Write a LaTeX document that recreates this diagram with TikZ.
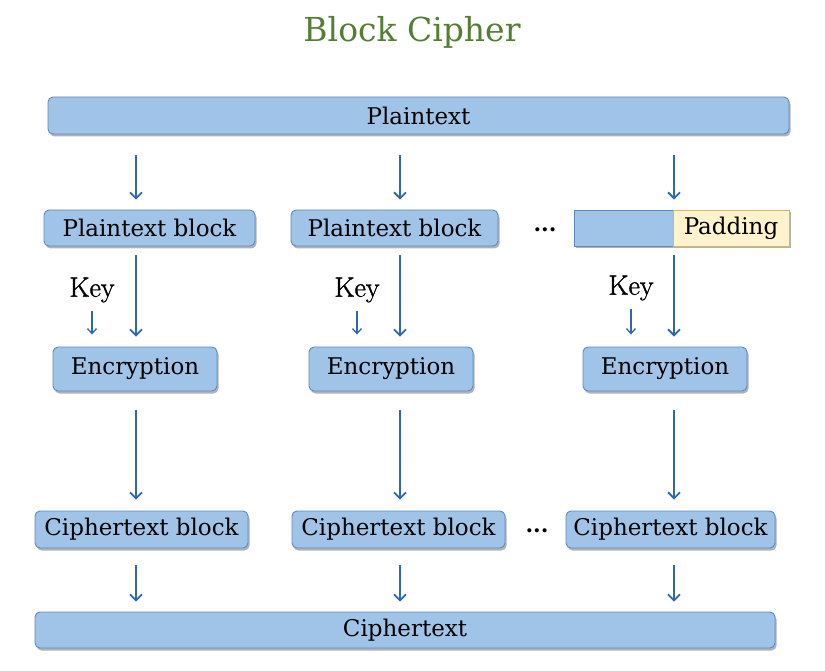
\documentclass[tikz,border=0pt]{standalone}
\usepackage{fontspec}
\setmainfont{DejaVu Serif}
\newfontfamily\keyfont[FakeBold=1.3]{Latin Modern Roman}
\usetikzlibrary{arrows.meta,shadows}
\definecolor{boxblue}{RGB}{160,196,232}
\definecolor{boxedge}{RGB}{96,136,192}
\definecolor{padfill}{RGB}{255,242,204}
\definecolor{padedge}{RGB}{214,184,96}
\definecolor{flowblue}{RGB}{46,104,178}
\definecolor{titlegreen}{RGB}{84,126,52}

\tikzset{
 blk/.style={draw=boxedge,fill=boxblue,line width=0.9pt,inner sep=0pt,
  drop shadow={shadow xshift=1.5pt,shadow yshift=-2.5pt,opacity=0.3,fill=black},
  font=\fontsize{23}{27}\selectfont},
 rblk/.style={blk,rounded corners=5pt},
 keylbl/.style={font=\keyfont\fontsize{28}{32}\selectfont},
 flow/.style={draw=flowblue,line width=1.8pt,-{Straight Barb[length=6pt,width=12pt,line width=1.8pt]}},
 keyflow/.style={draw=flowblue,line width=1.3pt,-{Straight Barb[length=5pt,width=9pt,line width=1.3pt]}},
 dots/.style={font=\fontsize{22}{26}\selectfont\bfseries}
}

\begin{document}
\begin{tikzpicture}[x=1pt,y=-1pt]
 \useasboundingbox (0,0) rectangle (825,671);
 \node[text=titlegreen,font=\fontsize{33}{38}\selectfont] (title) at (412,32) {Block Cipher};

 \node[rblk,minimum width=741pt,minimum height=37pt] (plain) at (418.5,115.5) {Plaintext};

 % blocks of plaintext
 \node[rblk,minimum width=211pt,minimum height=36pt] (pt1) at (149.5,228) {Plaintext block};
 \node[rblk,minimum width=207pt,minimum height=36pt] (pt2) at (394.5,228) {Plaintext block};
 \node[dots] (dotsA) at (545,230) {...};
 \node[blk,minimum width=99pt,minimum height=36pt] (part) at (623.5,228) {};
 \node[blk,draw=padedge,fill=padfill,minimum width=116pt,minimum height=36pt] (pad) at (731,228) {Padding};

 % keys
 \node[keylbl] (key1) at (92,290) {Key};
 \node[keylbl] (key2) at (357,290) {Key};
 \node[keylbl] (key3) at (631,288) {Key};

 \node[rblk,minimum width=164pt,minimum height=44pt] (enc1) at (135,369) {Encryption};
 \node[rblk,minimum width=164pt,minimum height=44pt] (enc2) at (391,369) {Encryption};
 \node[rblk,minimum width=164pt,minimum height=44pt] (enc3) at (665,369) {Encryption};

 % blocks of ciphertext
 \node[rblk,minimum width=213pt,minimum height=37pt] (ct1) at (141.5,529.5) {Ciphertext block};
 \node[rblk,minimum width=213pt,minimum height=37pt] (ct2) at (398.5,529.5) {Ciphertext block};
 \node[dots] (dotsB) at (537,531) {...};
 \node[rblk,minimum width=209pt,minimum height=37pt] (ct3) at (670.5,529.5) {Ciphertext block};

 \node[rblk,minimum width=740pt,minimum height=36pt] (cipher) at (405,630) {Ciphertext};

 \coordinate (col1) at (136,0);
 \coordinate (col2) at (400,0);
 \coordinate (col3) at (674,0);

 \foreach \c/\p/\e/\k/\t in {1/pt1/enc1/key1/ct1,2/pt2/enc2/key2/ct2,3/pad/enc3/key3/ct3}{
  \draw[flow,shorten <=21pt,shorten >=10pt] (plain.south -| col\c) -- (\p.north -| col\c);
  \draw[flow,shorten <=9pt,shorten >=10pt] (\p.south -| col\c) -- (\e.north -| col\c);
  \draw[keyflow,shorten <=5pt,shorten >=12pt] (\k.south) -- (\e.north -| \k.south);
  \draw[flow,shorten <=19pt,shorten >=11pt] (\e.south -| col\c) -- (\t.north -| col\c);
  \draw[flow,shorten <=17pt,shorten >=10pt] (\t.south -| col\c) -- (cipher.north -| col\c);
 }
\end{tikzpicture}
\end{document}
